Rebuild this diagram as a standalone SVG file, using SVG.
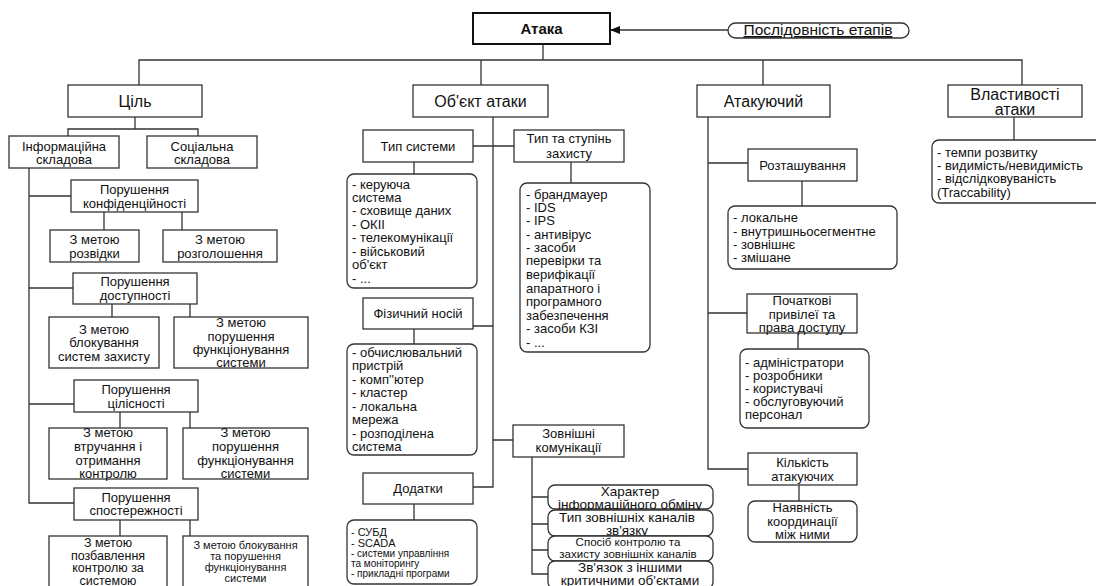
<svg xmlns="http://www.w3.org/2000/svg" width="1096" height="586" viewBox="0 0 1096 586">
<defs>
<style>
.b{fill:#fff;stroke:#333;stroke-width:1.3}
.r{fill:#fff;stroke:#333;stroke-width:1.3}
.c{fill:none;stroke:#333;stroke-width:1.3}
text{font-family:"Liberation Sans",Arial,sans-serif;fill:#111}
.m{font-size:16px;text-anchor:middle}
.n{font-size:13px;text-anchor:middle}
.l{font-size:13px}
.s{font-size:11px}
.t{font-size:10px}
</style>
<marker id="ah" markerWidth="10" markerHeight="8" refX="9" refY="4" orient="auto" markerUnits="userSpaceOnUse">
<path d="M0,0 L10,4 L0,8 Z" fill="#111"/>
</marker>
</defs>
<rect width="1096" height="586" fill="#fff"/>

<g id="connectors">
<path class="c" d="M139,85 V60 H1022 V85 M481,60 V85 M543,44 V60 M763,60 V85"/>
<path class="c" d="M728,30 H611" marker-end="url(#ah)"/>
<path class="c" d="M135,117 V129 M68,136 V129 H198 V136"/>
<path class="c" d="M29,168 V503 H74 M29,196 H71 M29,288 H73 M29,404 H74"/>
<path class="c" d="M104,212 V230 M182,212 V230 M112,304 V317 M190,304 V317 M120,412 V428 M190,412 V428 M120,520 V536 M190,520 V536"/>
<path class="c" d="M493,117 V487 H473 M473,146 H514 M473,326 H493 M493,440 H513"/>
<path class="c" d="M414,162 V174 M571,162 V183 M414,329 V344 M414,504 V520"/>
<path class="c" d="M532,457 V574 H548 M532,497 H548 M532,524 H548 M532,550 H548"/>
<path class="c" d="M708,117 V469 H748 M708,163 H748 M708,313 H747"/>
<path class="c" d="M802,181 V206 M798,333 V349 M799,485 V501 M1014,117 V140"/>
</g>

<g id="ataka"><rect x="473" y="13" width="137" height="31" fill="#fff" stroke="#111" stroke-width="2"/><text x="541.5" y="34" style="font-size:15px;font-weight:bold;text-anchor:middle">Атака</text></g>
<g id="etapy"><rect class="r" x="728" y="23" width="181" height="15" rx="7.5"/><text x="818" y="35" style="font-size:15.5px;text-anchor:middle;text-decoration:underline">Послідовність етапів</text></g>

<g id="cil"><rect class="b" x="68" y="85" width="134" height="32"/><text class="m" x="135" y="107">Ціль</text></g>
<g id="info"><rect class="b" x="9" y="136" width="110" height="32"/><text class="n" x="64" y="150.5">Інформаційна</text><text class="n" x="64" y="163.5">складова</text></g>
<g id="soc"><rect class="b" x="147" y="136" width="110" height="32"/><text class="n" x="202" y="150.5">Соціальна</text><text class="n" x="202" y="163.5">складова</text></g>
<g id="konf"><rect class="b" x="71" y="180" width="127" height="32"/><text class="n" x="134.5" y="193.5">Порушення</text><text class="n" x="134.5" y="207.5">конфіденційності</text></g>
<g id="rozv"><rect class="b" x="50" y="230" width="89" height="32"/><text class="n" x="94.5" y="243.5">З метою</text><text class="n" x="94.5" y="257.5">розвідки</text></g>
<g id="rozgol"><rect class="b" x="163" y="230" width="114" height="32"/><text class="n" x="220" y="243.5">З метою</text><text class="n" x="220" y="257.5">розголошення</text></g>
<g id="dost"><rect class="b" x="73" y="273" width="124" height="31"/><text class="n" x="135" y="285.5">Порушення</text><text class="n" x="135" y="299.5">доступності</text></g>
<g id="blok"><rect class="b" x="49" y="317" width="110" height="51"/><text class="n" x="104" y="333.5">З метою</text><text class="n" x="104" y="346.5">блокування</text><text class="n" x="104" y="360.5">систем захисту</text></g>
<g id="porfun1"><rect class="b" x="174" y="317" width="134" height="51"/><text class="n" x="241" y="326.5">З метою</text><text class="n" x="241" y="340.5">порушення</text><text class="n" x="241" y="353.5">функціонування</text><text class="n" x="241" y="366.5">системи</text></g>
<g id="cilis"><rect class="b" x="74" y="380" width="124" height="32"/><text class="n" x="136" y="393.5">Порушення</text><text class="n" x="136" y="407.5">цілісності</text></g>
<g id="vtr"><rect class="b" x="49" y="428" width="118" height="51"/><text class="n" x="108" y="437">З метою</text><text class="n" x="108" y="451">втручання і</text><text class="n" x="108" y="464.5">отримання</text><text class="n" x="108" y="477.5">контролю</text></g>
<g id="porfun2"><rect class="b" x="183" y="428" width="125" height="51"/><text class="n" x="245.5" y="437">З метою</text><text class="n" x="245.5" y="451">порушення</text><text class="n" x="245.5" y="464.5">функціонування</text><text class="n" x="245.5" y="477.5">системи</text></g>
<g id="spost"><rect class="b" x="74" y="488" width="124" height="32"/><text class="n" x="136" y="501.5">Порушення</text><text class="n" x="136" y="514.5">спостережності</text></g>
<g id="pozb"><rect class="b" x="49" y="536" width="118" height="56"/><text class="n" x="108" y="547" style="font-size:12.5px">З метою</text><text class="n" x="108" y="559.5" style="font-size:12.5px">позбавлення</text><text class="n" x="108" y="572" style="font-size:12.5px">контролю за</text><text class="n" x="108" y="584.5" style="font-size:12.5px">системою</text></g>
<g id="blokfun"><rect class="b" x="183" y="536" width="125" height="56"/><text class="s" x="245.5" y="549" text-anchor="middle">З метою блокування</text><text class="s" x="245.5" y="560" text-anchor="middle">та порушення</text><text class="s" x="245.5" y="571" text-anchor="middle">функціонування</text><text class="s" x="245.5" y="582" text-anchor="middle">системи</text></g>

<g id="obj"><rect class="b" x="413" y="85" width="135" height="32"/><text class="m" x="480.5" y="107">Об'єкт атаки</text></g>
<g id="tipsys"><rect class="b" x="363" y="130" width="110" height="32"/><text class="n" x="418" y="150.5">Тип системи</text></g>
<g id="tipzah"><rect class="b" x="514" y="130" width="110" height="32"/><text class="n" x="569" y="142.5">Тип та ступінь</text><text class="n" x="569" y="157.5">захисту</text></g>
<g id="tipsys-list"><rect class="r" x="347" y="174" width="130" height="114" rx="7"/>
<text class="l" x="352"><tspan x="352" y="188.5">- керуюча</tspan><tspan x="352" y="201.5">система</tspan><tspan x="352" y="215">- сховище даних</tspan><tspan x="352" y="228.5">- ОКІІ</tspan><tspan x="352" y="242">- телекомунікації</tspan><tspan x="352" y="255.5">- військовий</tspan><tspan x="352" y="269">об'єкт</tspan><tspan x="352" y="282.5">- ...</tspan></text></g>
<g id="tipzah-list"><rect class="r" x="520" y="183" width="130" height="169" rx="7"/>
<text class="l"><tspan x="526" y="198.5">- брандмауер</tspan><tspan x="526" y="212">- IDS</tspan><tspan x="526" y="225">- IPS</tspan><tspan x="526" y="238.5">- антивірус</tspan><tspan x="526" y="252">- засоби</tspan><tspan x="526" y="265">перевірки та</tspan><tspan x="526" y="279">верифікації</tspan><tspan x="526" y="292.5">апаратного і</tspan><tspan x="526" y="306">програмного</tspan><tspan x="526" y="319.5">забезпечення</tspan><tspan x="526" y="333">- засоби КЗІ</tspan><tspan x="526" y="347">- ...</tspan></text></g>
<g id="fiz"><rect class="b" x="363" y="298" width="110" height="31"/><text class="n" x="418" y="317.5">Фізичний носій</text></g>
<g id="fiz-list"><rect class="r" x="347" y="344" width="130" height="111" rx="7"/>
<text class="l"><tspan x="352" y="357">- обчислювальний</tspan><tspan x="352" y="370">пристрій</tspan><tspan x="352" y="383.5">- комп''ютер</tspan><tspan x="352" y="397">- кластер</tspan><tspan x="352" y="410.5">- локальна</tspan><tspan x="352" y="424">мережа</tspan><tspan x="352" y="437.5">- розподілена</tspan><tspan x="352" y="450.5">система</tspan></text></g>
<g id="zovn"><rect class="b" x="513" y="425" width="111" height="32"/><text class="n" x="568.5" y="437.5">Зовнішні</text><text class="n" x="568.5" y="451.5">комунікації</text></g>
<g id="dod"><rect class="b" x="363" y="473" width="110" height="31"/><text class="n" x="418" y="492.5">Додатки</text></g>
<g id="dod-list"><rect class="r" x="347" y="520" width="130" height="64" rx="7"/>
<text><tspan class="s" x="351" y="536">- СУБД</tspan><tspan class="s" x="351" y="547">- SCADA</tspan><tspan class="t" x="351" y="557">- системи управління</tspan><tspan class="t" x="351" y="567">та моніторингу</tspan><tspan class="t" x="351" y="577">- прикладні програми</tspan></text></g>
<g id="har"><rect class="r" x="548" y="485" width="165" height="24" rx="7"/><text class="n" x="630" y="495.5" style="font-size:13.5px">Характер</text><text class="n" x="630" y="508.5" style="font-size:13.5px">інформаційного обміну</text></g>
<g id="kan"><rect class="r" x="548" y="510" width="165" height="26" rx="7"/><text class="n" x="627" y="521.5" style="font-size:13.5px">Тип зовнішніх каналів</text><text class="n" x="627" y="534.5" style="font-size:13.5px">зв'язку</text></g>
<g id="sposib"><rect class="r" x="548" y="536" width="165" height="25" rx="7"/><text class="n" x="628" y="546" style="font-size:11.5px">Спосіб контролю та</text><text class="n" x="628" y="558" style="font-size:11.5px">захисту зовнішніх каналів</text></g>
<g id="zvyaz"><rect class="r" x="548" y="561" width="165" height="28" rx="7"/><text class="n" x="630" y="571.5" style="font-size:13.5px">Зв'язок з іншими</text><text class="n" x="630" y="584.5" style="font-size:13.5px">критичними об'єктами</text></g>

<g id="atak"><rect class="b" x="697" y="85" width="133" height="32"/><text class="m" x="763.5" y="107">Атакуючий</text></g>
<g id="roz"><rect class="b" x="748" y="149" width="109" height="32"/><text class="n" x="802.5" y="169.5">Розташування</text></g>
<g id="roz-list"><rect class="r" x="728" y="206" width="169" height="63" rx="7"/>
<text class="l"><tspan x="733" y="221.5">- локальне</tspan><tspan x="733" y="235.5">- внутришньосегментне</tspan><tspan x="733" y="248.5">- зовнішнє</tspan><tspan x="733" y="262">- змішане</tspan></text></g>
<g id="priv"><rect class="b" x="747" y="294" width="110" height="39"/><text class="n" x="802" y="304.5">Початкові</text><text class="n" x="802" y="318.5">привілеї та</text><text class="n" x="802" y="331.5">права доступу</text></g>
<g id="priv-list"><rect class="r" x="740" y="349" width="129" height="79" rx="7"/>
<text class="l"><tspan x="745" y="366.5">- адміністратори</tspan><tspan x="745" y="379.5">- розробники</tspan><tspan x="745" y="392.5">- користувачі</tspan><tspan x="745" y="406">- обслуговуючий</tspan><tspan x="745" y="419">персонал</tspan></text></g>
<g id="kil"><rect class="b" x="748" y="453" width="109" height="32"/><text class="n" x="802.5" y="466.5">Кількість</text><text class="n" x="802.5" y="480.5">атакуючих</text></g>
<g id="koord"><rect class="r" x="748" y="501" width="109" height="41" rx="7"/><text class="n" x="802.5" y="512">Наявність</text><text class="n" x="802.5" y="525.5">координації</text><text class="n" x="802.5" y="539">між ними</text></g>

<g id="vlast"><rect class="b" x="948" y="85" width="134" height="32"/><text class="m" x="1015" y="99.5">Властивості</text><text class="m" x="1015" y="115">атаки</text></g>
<g id="vlast-list"><rect class="r" x="932" y="140" width="170" height="63" rx="7"/>
<text class="l"><tspan x="937" y="156.5">- темпи розвитку</tspan><tspan x="937" y="169.5">- видимість/невидимість</tspan><tspan x="937" y="182.5">- відслідковуваність</tspan><tspan x="937" y="196.5">(Traccability)</tspan></text></g>
</svg>
